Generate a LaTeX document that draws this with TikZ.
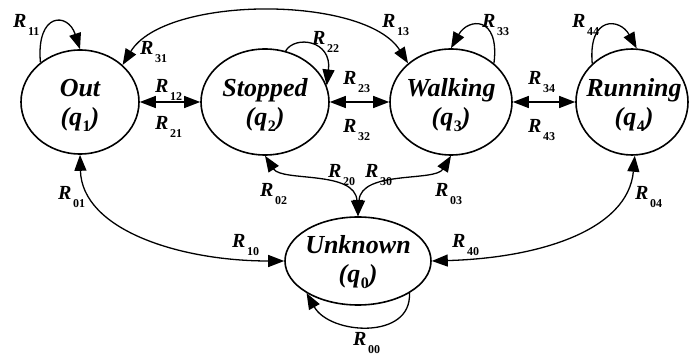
\documentclass[tikz,border=0pt]{standalone}
\usepackage{fontspec}
\setmainfont{Liberation Serif}
\usetikzlibrary{shapes.geometric,arrows.meta}
\newcommand{\Rlab}[1]{{\fontsize{20}{20}\selectfont\bfseries\itshape R}\hspace{1.5pt}\raisebox{-8pt}{\fontsize{12}{12}\selectfont\bfseries\upshape #1}}
\newcommand{\qlab}[1]{(q\hspace{0.5pt}\raisebox{-6pt}{\fontsize{16}{16}\selectfont\upshape #1})}
\begin{document}
\begin{tikzpicture}[x=1pt,y=-1pt,
  state/.style={draw,ellipse,line width=1.6pt,inner sep=0pt},
  stxt/.style={inner sep=0pt,align=center,font=\fontsize{26}{29}\selectfont\bfseries\itshape},
  conn/.style={line width=1.3pt,{Triangle[length=16pt,width=12pt]}-{Triangle[length=16pt,width=12pt]}},
  tip/.style={line width=1.3pt,-{Triangle[length=16pt,width=12pt]}},
  lab/.style={anchor=base west,inner sep=0pt}]
\useasboundingbox (0,0) rectangle (689,358);
% states
\node[state,minimum width=118pt,minimum height=104pt] (out) at (80,102) {};
\node[state,minimum width=128pt,minimum height=106pt] (stop) at (265,102) {};
\node[state,minimum width=122pt,minimum height=106pt] (walk) at (451,102) {};
\node[state,minimum width=112pt,minimum height=106pt] (run) at (632,102) {};
\node[state,minimum width=146pt,minimum height=88pt] (unk) at (358,261) {};
\node[stxt] (outt) at (80,105) {Out\\\qlab{1}};
\node[stxt] (stopt) at (265,105) {Stopped\\\qlab{2}};
\node[stxt] (walkt) at (451,105) {Walking\\\qlab{3}};
\node[stxt] (runt) at (634,105) {Running\\\qlab{4}};
\node[stxt] (unkt) at (358,262) {Unknown\\\qlab{0}};
% horizontal connectors
\draw[conn] (out.east) -- (stop.west);
\draw[conn] (stop.east) -- (walk.west);
\draw[conn] (walk.east) -- (run.west);
% top arc
\draw[conn] (out.41) .. controls (165,-5) and (365,-5) .. (walk.138);
% self loops
\draw[tip] (out.135) .. controls (36,12) and (68,12) .. (out.north);
\draw[tip] (stop.68) .. controls (295,35) and (332,40) .. (stop.15);
\draw[tip] (walk.42) .. controls (500,15) and (468,18) .. (walk.north);
\draw[tip] (run.136) .. controls (588,15) and (620,18) .. (run.85);
\draw[tip] (unk.328) .. controls (412,340) and (330,335) .. (unk.212);
% to unknown
\draw[conn] (out.south) .. controls (82,230) and (180,261) .. (unk.west);
\draw[conn] (stop.south) .. controls (282,182) and (355,170) .. (unk.north);
\draw[conn] (walk.south) .. controls (435,182) and (361,170) .. (unk.north);
\draw[conn] (run.273) .. controls (628,230) and (540,258) .. (unk.east);
% labels
\node[lab] (l11) at (13,28) {\Rlab{11}};
\node[lab] (l31) at (140,55) {\Rlab{31}};
\node[lab] (l12) at (155,93) {\Rlab{12}};
\node[lab] (l21) at (155,130) {\Rlab{21}};
\node[lab] (l22) at (312,45) {\Rlab{22}};
\node[lab] (l13) at (382,28) {\Rlab{13}};
\node[lab] (l33) at (482,28) {\Rlab{33}};
\node[lab] (l44) at (572,28) {\Rlab{44}};
\node[lab] (l23) at (343,85) {\Rlab{23}};
\node[lab] (l32) at (343,133) {\Rlab{32}};
\node[lab] (l34) at (528,85) {\Rlab{34}};
\node[lab] (l43) at (528,133) {\Rlab{43}};
\node[lab] (l01) at (58,200) {\Rlab{01}};
\node[lab] (l02) at (260,197) {\Rlab{02}};
\node[lab] (l20) at (328,178) {\Rlab{20}};
\node[lab] (l30) at (365,178) {\Rlab{30}};
\node[lab] (l03) at (435,197) {\Rlab{03}};
\node[lab] (l04) at (635,200) {\Rlab{04}};
\node[lab] (l10) at (232,248) {\Rlab{10}};
\node[lab] (l40) at (452,248) {\Rlab{40}};
\node[lab] (l00) at (353,346) {\Rlab{00}};
\end{tikzpicture}
\end{document}
